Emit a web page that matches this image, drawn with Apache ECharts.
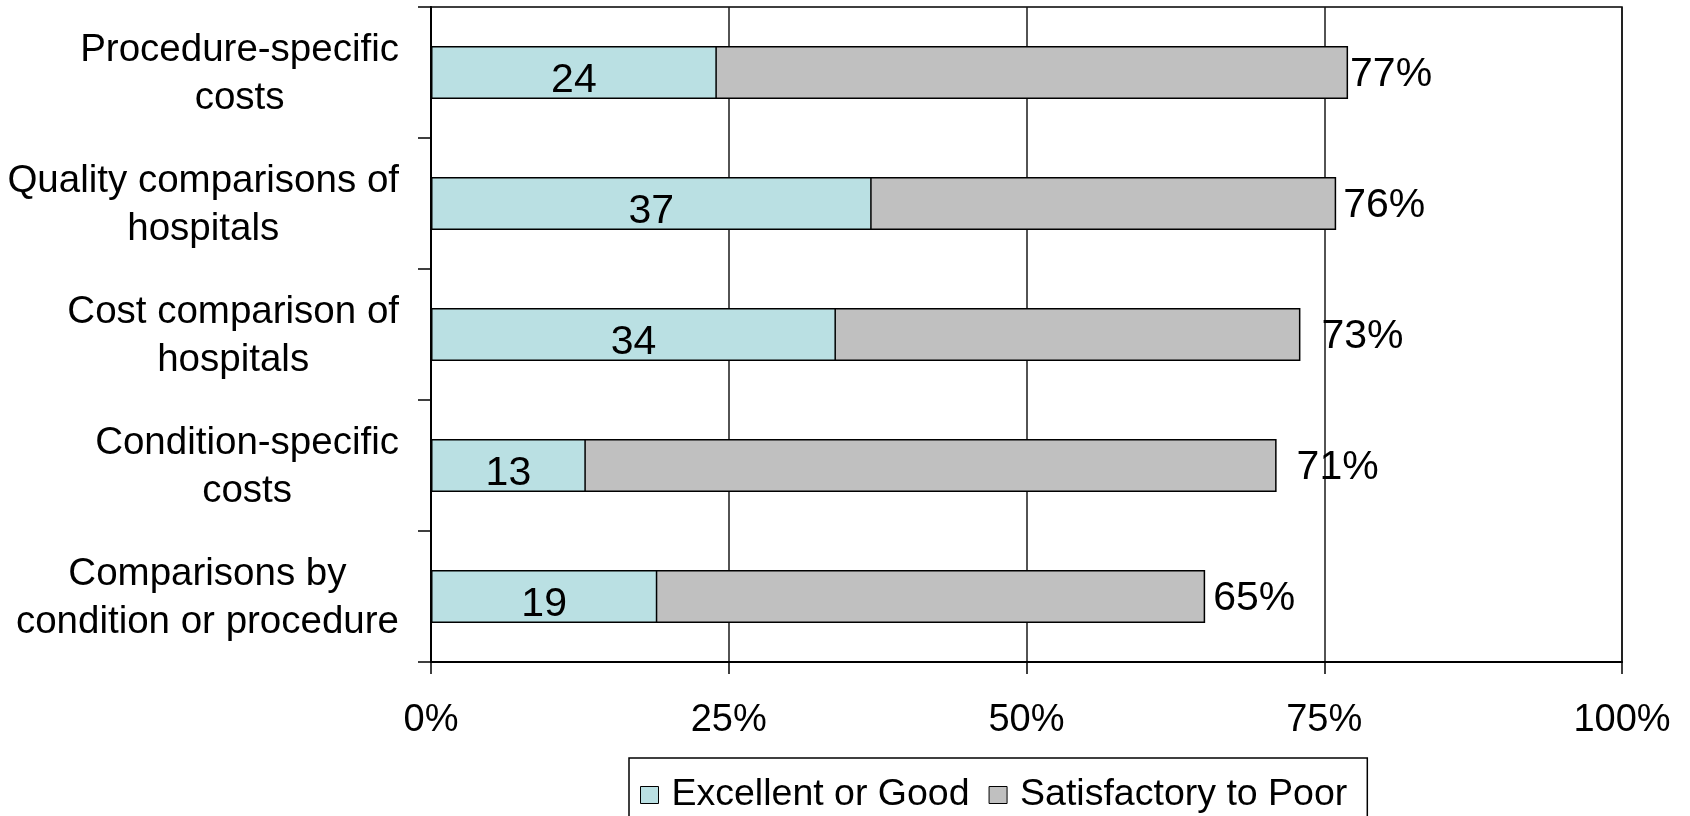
<!DOCTYPE html>
<html>
<head>
<meta charset="utf-8">
<title>Ratings of price and quality information</title>
<script src="https://cdn.jsdelivr.net/npm/echarts@6/dist/echarts.min.js"></script>
<style>
  html, body { margin: 0; padding: 0; background: #ffffff; }
  #chart { width: 1690px; height: 816px; }
</style>
</head>
<body>
<div id="chart"></div>
<script>
// Information types, listed top to bottom
const categories = [
  'Procedure-specific\ncosts',
  'Quality comparisons of\nhospitals',
  'Cost comparison of\nhospitals',
  'Condition-specific\ncosts',
  'Comparisons by\ncondition or procedure'
];

// Share rating the information "Excellent or Good" (%)
const excellentOrGood = [24, 37, 34, 13, 19];

// Combined share with any rating, "Excellent" through "Poor" (%)
const totalRated = [77, 76, 73, 71, 65];

// Percent axis ticks
const xTicks = [0, 25, 50, 75, 100];

const seriesNames = ['Excellent or Good', 'Satisfactory to Poor'];

// Gap between each bar end and its total label
const totalLabelGap = [2, 7, 21, 20, 8];

const FONT = '"Liberation Sans", Arial, sans-serif';
const TEAL = '#BAE0E3';
const GREY = '#C0C0C0';

const chart = echarts.init(document.getElementById('chart'), null, { renderer: 'canvas' });

const option = {
  animation: false,
  backgroundColor: '#ffffff',
  textStyle: { fontFamily: FONT, color: '#000' },
  grid: {
    left: 431,
    right: 68,
    top: 7,
    bottom: 154,
    show: true,
    borderColor: '#000',
    borderWidth: 1.5,
    backgroundColor: 'transparent'
  },
  legend: {
    data: seriesNames,
    left: 629,
    top: 758,
    orient: 'horizontal',
    padding: [18, 20, 14, 11],
    itemGap: 19,
    itemWidth: 18,
    itemHeight: 17,
    borderColor: '#000',
    borderWidth: 1.5,
    icon: 'rect',
    itemStyle: { borderColor: '#000', borderWidth: 1 },
    textStyle: {
      fontFamily: FONT,
      fontSize: 37.5,
      color: '#000',
      padding: [0, 0, 0, 8]
    }
  },
  xAxis: {
    type: 'value',
    min: xTicks[0],
    max: xTicks[xTicks.length - 1],
    interval: xTicks[1] - xTicks[0],
    axisLine: { show: true, lineStyle: { color: '#000', width: 2 } },
    axisTick: { show: true, inside: false, length: 12, lineStyle: { color: '#000', width: 1.5 } },
    splitLine: { show: true, lineStyle: { color: '#1a1a1a', width: 1.5 } },
    axisLabel: {
      margin: 40,
      fontFamily: FONT,
      fontSize: 38,
      color: '#000',
      formatter: '{value}%'
    }
  },
  yAxis: {
    type: 'category',
    inverse: true,
    data: categories,
    axisLine: { show: true, lineStyle: { color: '#000', width: 2 } },
    axisTick: { show: true, inside: false, length: 13, lineStyle: { color: '#000', width: 1.5 } },
    splitLine: { show: false },
    axisLabel: {
      margin: 32,
      color: '#000',
      formatter: function (value) {
        return value.split('\n').map(function (line) { return '{c|' + line + '}'; }).join('\n');
      },
      rich: {
        c: {
          align: 'center',
          fontFamily: FONT,
          fontSize: 38.5,
          lineHeight: 48,
          padding: [4, 0, 0, 0],
          color: '#000'
        }
      }
    }
  },
  series: [
    {
      // Full rated bar; the "Excellent or Good" part is drawn over its left end
      name: seriesNames[1],
      type: 'bar',
      barWidth: 53,
      barGap: '-100%',
      data: totalRated.map(function (v, i) {
        return { value: v, label: { distance: totalLabelGap[i] } };
      }),
      itemStyle: { color: GREY, borderColor: '#000', borderWidth: 1.5 },
      label: {
        show: true,
        position: 'right',
        fontFamily: FONT,
        fontSize: 41,
        color: '#000',
        offset: [0, 2],
        formatter: '{c}%'
      }
    },
    {
      name: seriesNames[0],
      type: 'bar',
      barWidth: 53,
      barGap: '-100%',
      data: excellentOrGood,
      itemStyle: { color: TEAL, borderColor: '#000', borderWidth: 1.5 },
      label: {
        show: true,
        position: 'inside',
        fontFamily: FONT,
        fontSize: 41,
        color: '#000',
        offset: [0, 8],
        formatter: '{c}'
      }
    }
  ]
};

chart.setOption(option);
</script>
</body>
</html>
